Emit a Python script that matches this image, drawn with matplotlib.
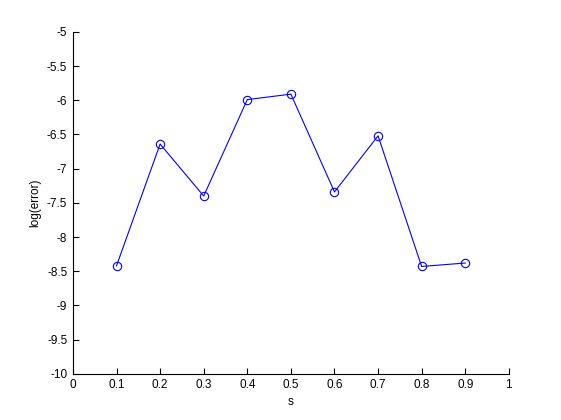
import numpy as np
import matplotlib.pyplot as plt

plt.rcParams['font.family'] = ['Liberation Sans', 'DejaVu Sans']

# data
s = [0.1, 0.2, 0.3, 0.4, 0.5, 0.6, 0.7, 0.8, 0.9]
log_err = [-8.42, -6.64, -7.40, -5.99, -5.91, -7.34, -6.52, -8.43, -8.38]

fig = plt.figure(figsize=(5.61, 4.2), dpi=100)
ax = fig.add_axes([0.13, 0.11, 0.777, 0.814])

ax.plot(s, log_err, color='blue', linewidth=0.8, marker='o',
        markersize=6, markerfacecolor='none', markeredgecolor='blue',
        markeredgewidth=0.8)

ax.set_xlim(0, 1)
ax.set_ylim(-10, -5)
ax.set_xticks(np.arange(0, 1.01, 0.1))
ax.set_xticklabels(['0', '0.1', '0.2', '0.3', '0.4', '0.5', '0.6', '0.7', '0.8', '0.9', '1'])
ax.set_yticks(np.arange(-10, -4.99, 0.5))
ax.set_yticklabels(['-10', '-9.5', '-9', '-8.5', '-8', '-7.5', '-7', '-6.5', '-6', '-5.5', '-5'])

ax.spines['top'].set_visible(False)
ax.spines['right'].set_visible(False)
ax.tick_params(direction='in', length=4, width=0.8, labelsize=8.5, pad=4)
ax.set_xlabel('s', fontsize=8.5, labelpad=3)
ax.set_ylabel('log(error)', fontsize=8.5, labelpad=4)

plt.savefig('out.png', dpi=100)
